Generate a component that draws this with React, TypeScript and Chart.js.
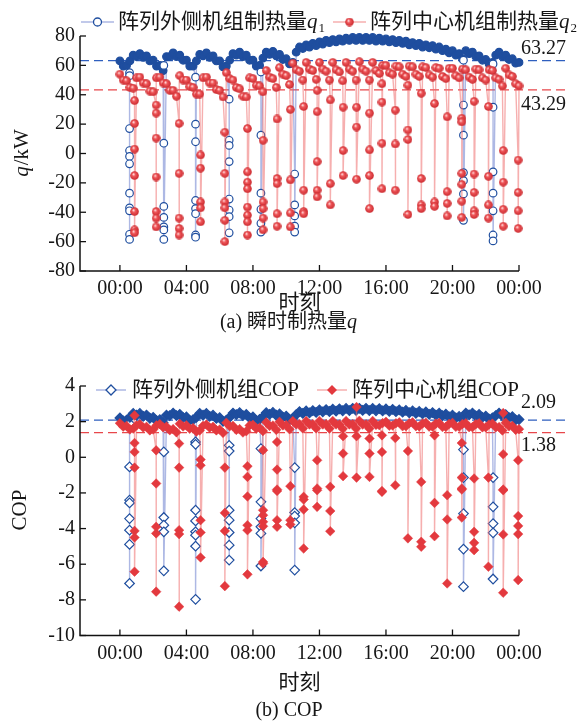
import React, { useEffect, useRef } from 'react';
import { Chart, registerables } from 'chart.js';

Chart.register(...registerables);

const FONT = '"Liberation Serif", "Noto Sans CJK SC", serif';

// ---------- data ----------
const timeTickHours = [0, 4, 8, 12, 16, 20, 24];
const timeTickLabels = ['00:00', '04:00', '08:00', '12:00', '16:00', '20:00', '00:00'];
const qTicks = [-80, -60, -40, -20, 0, 20, 40, 60, 80];
const copTicks = [-10, -8, -6, -4, -2, 0, 2, 4];

const hoursGrid = [
  0, 0.2, 0.4, 0.6, 0.8, 1, 1.2, 1.4, 1.6, 1.8,
  2, 2.2, 2.4, 2.6, 2.8, 3, 3.2, 3.4, 3.6, 3.8,
  4, 4.2, 4.4, 4.6, 4.8, 5, 5.2, 5.4, 5.6, 5.8,
  6, 6.2, 6.4, 6.6, 6.8, 7, 7.2, 7.4, 7.6, 7.8,
  8, 8.2, 8.4, 8.6, 8.8, 9, 9.2, 9.4, 9.6, 9.8,
  10, 10.2, 10.4, 10.6, 10.8, 11, 11.2, 11.4, 11.6, 11.8,
  12, 12.2, 12.4, 12.6, 12.8, 13, 13.2, 13.4, 13.6, 13.8,
  14, 14.2, 14.4, 14.6, 14.8, 15, 15.2, 15.4, 15.6, 15.8,
  16, 16.2, 16.4, 16.6, 16.8, 17, 17.2, 17.4, 17.6, 17.8,
  18, 18.2, 18.4, 18.6, 18.8, 19, 19.2, 19.4, 19.6, 19.8,
  20, 20.2, 20.4, 20.6, 20.8, 21, 21.2, 21.4, 21.6, 21.8,
  22, 22.2, 22.4, 22.6, 22.8, 23, 23.2, 23.4, 23.6, 23.8,
  24,
];

// q1: outer units heating output (kW), normal operation
const q1Band = [
  63, 59.5, 60, 63, 67, 66, 68, 65.5, 66.5, 63,
  63.5, 59.5, 60, 56.5, 66, 66, 68.5, 66, 67, 63.5,
  63.5, 59.5, 59.5, 63, 67.5, 66.5, 68.5, 65.5, 66.5, 63,
  63, 59, 59.5, 63.5, 68, 67, 69, 66, 67, 63.5,
  63.5, 59.5, 60, 65, 69, 67.5, 69.5, 66.5, 67.5, 64,
  64.5, 61, 62, 69, 72.5, 71.5, 74, 72.5, 75, 73.5,
  76, 74.5, 77, 75.5, 77.5, 76, 78, 76.5, 78.5, 77,
  79, 77, 79, 77, 79, 77, 79, 76.5, 78.5, 76.5,
  78, 76, 77.5, 75.5, 77, 75, 76.5, 74, 75.5, 73.5,
  75, 72.5, 74, 72, 73.5, 71, 72.5, 70, 71, 68.5,
  70, 67, 68, 64.5, 70, 68, 69, 66, 66.5, 63.5,
  64, 61, 62, 67, 69, 66, 67, 64, 64.5, 61.5,
  62,
];
// q2: centre units heating output (kW), normal operation
const q2Band = [
  54, 50, 49.5, 45, 44.5, 51.5, 52, 48, 47.5, 42.5,
  42, 51.5, 52, 48, 47.5, 43, 43, 39, 53, 50,
  50, 45.5, 45, 40.5, 40.5, 51.5, 52, 48, 48, 43.5,
  43, 38.5, 55, 51, 50, 45, 44, 39, 38.5, 51.5,
  51, 46.5, 46, 42, 56.5, 52, 51, 45, 58.5, 54,
  53, 47, 61.5, 57, 56, 50, 62, 57.5, 56.5, 50.5,
  62, 57.5, 56, 50, 62, 57, 55.5, 49.5, 62, 57.5,
  56, 50, 62.5, 57.5, 56, 50, 62, 56.5, 54.5, 60,
  60, 55, 54, 59.5, 59, 54, 52.5, 59.5, 59, 54,
  52.5, 59, 58.5, 53.5, 52, 58.5, 58, 52.5, 51, 58,
  58, 53, 51.5, 57.5, 57, 52, 50.5, 57.5, 57, 51.5,
  50, 57, 56.5, 51.5, 50.5, 46, 58, 53.5, 52.5, 47.5,
  46,
];
// COP of outer units, normal operation
const cop1Band = [
  2.21, 2.04, 2.08, 2.24, 2.46, 2.36, 2.46, 2.3, 2.37, 2.19,
  2.24, 2.05, 2.11, 1.94, 2.36, 2.34, 2.48, 2.34, 2.41, 2.22,
  2.26, 2.06, 2.11, 2.24, 2.46, 2.36, 2.46, 2.3, 2.36, 2.18,
  2.22, 2.02, 2.08, 2.24, 2.48, 2.39, 2.5, 2.34, 2.4, 2.21,
  2.26, 2.06, 2.12, 2.26, 2.5, 2.41, 2.52, 2.36, 2.43, 2.25,
  2.31, 2.12, 2.18, 2.39, 2.56, 2.46, 2.6, 2.49, 2.62, 2.52,
  2.66, 2.55, 2.68, 2.57, 2.7, 2.59, 2.72, 2.61, 2.74, 2.62,
  2.75, 2.63, 2.75, 2.63, 2.75, 2.62, 2.74, 2.61, 2.73, 2.6,
  2.71, 2.58, 2.69, 2.56, 2.66, 2.53, 2.63, 2.5, 2.6, 2.47,
  2.57, 2.44, 2.54, 2.41, 2.51, 2.37, 2.47, 2.33, 2.42, 2.27,
  2.36, 2.21, 2.29, 2.14, 2.48, 2.38, 2.48, 2.32, 2.4, 2.24,
  2.31, 2.14, 2.21, 2.34, 2.48, 2.32, 2.39, 2.22, 2.28, 2.1,
  2.12,
];
// COP of centre units, normal operation
const cop2Band = [
  1.91, 1.72, 1.76, 1.56, 1.61, 1.79, 1.86, 1.67, 1.71, 1.51,
  1.56, 1.79, 1.86, 1.68, 1.72, 1.52, 1.58, 1.4, 1.88, 1.73,
  1.79, 1.6, 1.64, 1.44, 1.5, 1.77, 1.84, 1.66, 1.71, 1.51,
  1.56, 1.37, 1.94, 1.74, 1.76, 1.54, 1.58, 1.39, 1.46, 1.79,
  1.82, 1.61, 1.66, 1.47, 1.96, 1.76, 1.78, 1.54, 1.99, 1.79,
  1.81, 1.57, 2.03, 1.84, 1.86, 1.62, 2.04, 1.84, 1.86, 1.62,
  2.04, 1.84, 1.86, 1.61, 2.04, 1.84, 1.84, 1.6, 2.04, 1.84,
  1.86, 1.61, 2.05, 1.84, 1.85, 1.61, 2.04, 1.82, 1.8, 1.92,
  1.99, 1.77, 1.78, 1.91, 1.96, 1.74, 1.74, 1.91, 1.96, 1.74,
  1.73, 1.9, 1.94, 1.72, 1.72, 1.89, 1.93, 1.7, 1.7, 1.88,
  1.93, 1.71, 1.71, 1.87, 1.91, 1.69, 1.69, 1.86, 1.91, 1.68,
  1.68, 1.84, 1.89, 1.68, 1.7, 1.5, 1.94, 1.74, 1.76, 1.54,
  1.58,
];

// defrost events of the outer units
const outerDefrostHours = [0.58, 2.64, 4.55, 6.57, 8.48, 10.51, 20.66, 22.44];
const q1DefrostValues = [
  [55, 53, 17, 2, -2, -7, -27, -37, -39, -55, -58.5],
  [60, 7, -36, -43.5, -50, -52, -58.5],
  [52, 20, 8, -32, -37.5, -41, -55.5, -57],
  [37, 9, 5.5, -5.5, -31, -38.5, -43, -54],
  [55.5, 12.5, -27, -38, -47.5, -53.5],
  [-14, -35, -42.5, -49.5, -53.5],
  [63.5, 33, 12.5, -13, -18.5, -27.5, -45.5],
  [61, 31.5, -12.5, -27, -39, -55.5, -59.5],
];
const cop1DefrostValues = [
  [1.89, -0.54, -2.4, -2.56, -3.44, -4.09, -4.89, -7.08],
  [0.3, -3.38, -3.81, -4.18, -6.37],
  [0.86, 0.73, -2.97, -3.57, -4.18, -4.37, -4.99, -7.97],
  [0.67, 0.35, -2.97, -3.53, -4.22, -4.93, -5.77],
  [0.49, -2.5, -3.44, -3.9, -4.27, -6.1],
  [-0.58, -3.1, -3.3, -3.68, -6.33],
  [0.43, -1.14, -3.16, -5.15, -7.26],
  [-1.14, -2.78, -3.72, -4.24, -6.83],
];

// defrost events of the centre units
const centreDefrostHours = [
  0.88, 2.18, 3.56, 4.85, 6.31, 7.67, 8.61, 9.45, 10.25, 11.05, 11.86, 12.65, 13.42,
  14.23, 15.01, 15.76, 16.56, 17.32, 18.12, 18.92, 19.68, 20.56, 21.3, 22.16, 23.05, 23.95,
];
const q2DefrostValues = [
  [36, 20.5, 3, -15, -39.5, -52, -54],
  [33, 27.5, 10.5, -16, -39.5, -44, -50],
  [20.5, -13.5, -44, -51, -55.5],
  [-1, -10, -33, -37, -46.5],
  [14.5, -13.5, -33, -37, -45.5, -60],
  [17, -12.5, -19.5, -24, -36.5, -42, -46.5, -55.5],
  [9, -33, -37.5, -44, -52],
  [23.5, -17, -20.5, -41, -49.5],
  [30, -18, -40.5, -50],
  [32, -25, -39.5, -41],
  [43, 28.5, -5.5, -25, -29.5],
  [36.5, -20.5, -35],
  [31.5, 2, -15],
  [31.5, 18, -17.5],
  [27.5, 2.5, -15, -37.5],
  [47.5, 35, 7, -24],
  [29.5, 6.5, -25],
  [46.5, 16, 9.5, -41.5],
  [41, -17, -35, -37.5],
  [34, -33, -36],
  [25, -26, -34, -42.5],
  [24, 21.5, -13.5, -21, -32.5, -43.5],
  [35.5, -14, -26.5, -39, -41.5],
  [32, -15.5, -35, -44],
  [2, -19.5, -38, -49.5],
  [-4.5, -26.5, -39, -51],
];
const cop2DefrostValues = [
  [2.35, 0.8, 0.3, -0.58, -4.13, -4.5, -6.42],
  [0.39, -1.47, -3.9, -4.27, -7.54],
  [0.77, -0.58, -4.09, -4.31, -8.38],
  [-0.13, -0.45, -3.53, -4.22, -5.62],
  [-0.58, -3.12, -4.13, -7.23],
  [-0.5, -1.1, -2.2, -3.81, -4.09, -6.57],
  [0.4, -2.97, -3.25, -3.62, -3.87, -5.87, -5.96],
  [0.86, -0.69, -1.81, -1.89, -3.53, -3.9],
  [-1.62, -3.53, -3.77],
  [-2.22, -2.37, -2.93, -5.12],
  [-0.17, -1.75, -1.85, -2.78],
  [-1.66, -3.01, -4.15],
  [1.18, 0.21, -1.06],
  [2.82, 1.18, -1.14],
  [1.05, 0.21, -1.1],
  [1.23, 0.3, -1.89, -1.94],
  [1.08, -1.57],
  [0.35, -4.55],
  [-1.38, -4.74, -5.02],
  [1.23, -2.56, -4.43],
  [-2.13, -3.49, -7.08],
  [0.8, -1.14, -1.75, -1.81, -3.38],
  [-1.19, -4.18, -4.8, -5.21],
  [-1.14, -6.14],
  [2.48, 0.17, -1.81, -1.85, -4.33, -7.6],
  [-0.17, -3.3, -3.85, -4.31, -6.89],
];

// daily means (dashed reference lines)
const qMeans = [63.27, 43.29];
const copMeans = [2.09, 1.38];

// ---------- styling ----------
const BLUE = '#1f4e9f';
const BLUE_LINE = 'rgba(105,125,205,0.55)';
const BLUE_DASH = '#2f5fbf';
const RED = '#e3393e';
const RED_LINE = 'rgba(238,110,110,0.55)';
const RED_DASH = '#e8474b';
const TEXT = '#161616';

type P = { x: number; y: number; dip: boolean };

function buildSeries(hours: number[], band: number[], dipHours: number[], dipValues: number[][]): P[] {
  const pts: P[] = [];
  let d = 0;
  for (let i = 0; i < hours.length; i++) {
    while (d < dipHours.length && dipHours[d] < hours[i]) {
      for (const v of dipValues[d]) pts.push({ x: dipHours[d], y: v, dip: true });
      d++;
    }
    pts.push({ x: hours[i], y: band[i], dip: false });
  }
  while (d < dipHours.length) {
    for (const v of dipValues[d]) pts.push({ x: dipHours[d], y: v, dip: true });
    d++;
  }
  return pts;
}

type Part = { t: string; it?: boolean; sub?: boolean };

function partFont(p: Part, size: number) {
  return `${p.it ? 'italic ' : ''}${p.sub ? Math.round(size * 0.62) : size}px ${FONT}`;
}
function richWidth(ctx: CanvasRenderingContext2D, parts: Part[], size: number) {
  let w = 0;
  for (const p of parts) {
    ctx.font = partFont(p, size);
    w += ctx.measureText(p.t).width + (p.it ? 1 : 0);
  }
  return w;
}
function drawRich(ctx: CanvasRenderingContext2D, parts: Part[], x: number, y: number, size: number, align: 'left' | 'center') {
  let cx = align === 'center' ? x - richWidth(ctx, parts, size) / 2 : x;
  ctx.textAlign = 'left';
  ctx.textBaseline = 'middle';
  ctx.fillStyle = TEXT;
  for (const p of parts) {
    ctx.font = partFont(p, size);
    ctx.fillText(p.t, cx, p.sub ? y + size * 0.32 : y);
    cx += ctx.measureText(p.t).width + (p.it ? 1 : 0);
  }
  return cx;
}

function makeBall(d: number) {
  const c = document.createElement('canvas');
  c.width = d;
  c.height = d;
  const g = c.getContext('2d')!;
  const r = d / 2;
  const grad = g.createRadialGradient(r * 0.75, r * 0.7, r * 0.1, r, r, r);
  grad.addColorStop(0, '#ffd6d6');
  grad.addColorStop(0.3, '#f0585b');
  grad.addColorStop(1, '#c9272c');
  g.fillStyle = grad;
  g.beginPath();
  g.arc(r, r, r - 0.2, 0, Math.PI * 2);
  g.fill();
  return c;
}

type Marker = 'circle' | 'ball' | 'diamondHollow' | 'diamond';
type LegendItem = { x: number; lineLen: number; textGap: number; marker: Marker; lineColor: string; parts: Part[] };
type Decor = {
  refLines: { value: number; color: string; dy: number }[];
  refEnd: number;
  legendY: number;
  legend: LegendItem[];
  xTitleY: number;
  caption: Part[];
  captionX: number;
  captionY: number;
  yTitle: Part[];
  yTitleX: number;
  yTitleY: number;
  ball: HTMLCanvasElement;
};

function drawMarker(ctx: CanvasRenderingContext2D, m: Marker, x: number, y: number, ball: HTMLCanvasElement) {
  ctx.save();
  ctx.setLineDash([]);
  if (m === 'circle') {
    ctx.beginPath();
    ctx.arc(x, y, 4, 0, Math.PI * 2);
    ctx.fillStyle = '#fff';
    ctx.fill();
    ctx.lineWidth = 1.3;
    ctx.strokeStyle = BLUE;
    ctx.stroke();
  } else if (m === 'ball') {
    ctx.drawImage(ball, x - ball.width / 2, y - ball.height / 2);
  } else {
    const r = 5;
    ctx.beginPath();
    ctx.moveTo(x, y - r);
    ctx.lineTo(x + r, y);
    ctx.lineTo(x, y + r);
    ctx.lineTo(x - r, y);
    ctx.closePath();
    if (m === 'diamond') {
      ctx.fillStyle = RED;
      ctx.fill();
    } else {
      ctx.fillStyle = '#fff';
      ctx.fill();
      ctx.lineWidth = 1.3;
      ctx.strokeStyle = BLUE;
      ctx.stroke();
    }
  }
  ctx.restore();
}

function makeDecorPlugin(o: Decor) {
  return {
    id: 'decor',
    beforeDatasetsDraw(chart: any) {
      const { ctx, chartArea, scales } = chart;
      ctx.save();
      ctx.setLineDash([9, 5]);
      ctx.lineWidth = 1.3;
      for (const r of o.refLines) {
        const py = scales.y.getPixelForValue(r.value);
        ctx.strokeStyle = r.color;
        ctx.beginPath();
        ctx.moveTo(chartArea.left, py);
        ctx.lineTo(o.refEnd, py);
        ctx.stroke();
      }
      ctx.restore();
    },
    afterDraw(chart: any) {
      const { ctx, chartArea, scales } = chart;
      const { left, right, top, bottom } = chartArea;
      ctx.save();
      ctx.strokeStyle = '#111';
      ctx.lineWidth = 1.5;
      ctx.setLineDash([]);
      ctx.beginPath();
      ctx.moveTo(left, top);
      ctx.lineTo(left, bottom);
      ctx.lineTo(right, bottom);
      ctx.stroke();
      ctx.lineWidth = 1.3;
      for (const t of scales.x.ticks) {
        const px = scales.x.getPixelForValue(t.value);
        ctx.beginPath();
        ctx.moveTo(px, bottom);
        ctx.lineTo(px, bottom - 6);
        ctx.stroke();
      }
      for (const t of scales.y.ticks) {
        const py = scales.y.getPixelForValue(t.value);
        ctx.beginPath();
        ctx.moveTo(left, py);
        ctx.lineTo(left + 6, py);
        ctx.stroke();
      }
      for (const r of o.refLines) {
        const py = scales.y.getPixelForValue(r.value);
        drawRich(ctx, [{ t: r.value.toFixed(2) }], right + 2, py + r.dy, 20, 'left');
      }
      let prevEnd = 0;
      for (const it of o.legend) {
        const x0 = Math.max(it.x, prevEnd + 8);
        ctx.strokeStyle = it.lineColor;
        ctx.lineWidth = 1.5;
        ctx.beginPath();
        ctx.moveTo(x0, o.legendY);
        ctx.lineTo(x0 + it.lineLen, o.legendY);
        ctx.stroke();
        drawMarker(ctx, it.marker, x0 + it.lineLen / 2, o.legendY, o.ball);
        prevEnd = drawRich(ctx, it.parts, x0 + it.textGap, o.legendY, 21, 'left');
      }
      drawRich(ctx, [{ t: '时刻' }], (left + right) / 2, o.xTitleY, 21, 'center');
      drawRich(ctx, o.caption, o.captionX, o.captionY, 20, 'center');
      ctx.translate(o.yTitleX, o.yTitleY);
      ctx.rotate(-Math.PI / 2);
      drawRich(ctx, o.yTitle, 0, 0, 21, 'center');
      ctx.restore();
    },
  };
}

function xScale(height: number) {
  return {
    type: 'linear',
    min: -2.4,
    max: 24,
    afterBuildTicks: (s: any) => {
      s.ticks = timeTickHours.map((v) => ({ value: v }));
    },
    afterFit: (s: any) => {
      s.height = height;
    },
    grid: { display: false, drawTicks: false },
    border: { display: false },
    ticks: {
      autoSkip: false,
      maxRotation: 0,
      padding: 6,
      color: TEXT,
      font: { family: FONT, size: 20 },
      callback: (_v: any, i: number) => timeTickLabels[i],
    },
  };
}

function yScale(min: number, max: number, ticks: number[]) {
  return {
    type: 'linear',
    min,
    max,
    afterBuildTicks: (s: any) => {
      s.ticks = ticks.map((v) => ({ value: v }));
    },
    afterFit: (s: any) => {
      s.width = 80;
    },
    grid: { display: false, drawTicks: false },
    border: { display: false },
    ticks: {
      padding: 5,
      color: TEXT,
      font: { family: FONT, size: 20 },
      callback: (v: any) => String(v),
    },
  };
}

const blueFill = (ctx: any) => (ctx.raw && ctx.raw.dip ? '#ffffff' : BLUE);

export default function App() {
  const topRef = useRef<HTMLCanvasElement>(null);
  const botRef = useRef<HTMLCanvasElement>(null);

  useEffect(() => {
    const ball = makeBall(9);
    const q1 = buildSeries(hoursGrid, q1Band, outerDefrostHours, q1DefrostValues);
    const q2 = buildSeries(hoursGrid, q2Band, centreDefrostHours, q2DefrostValues);
    const c1 = buildSeries(hoursGrid, cop1Band, outerDefrostHours, cop1DefrostValues);
    const c2 = buildSeries(hoursGrid, cop2Band, centreDefrostHours, cop2DefrostValues);

    const top = new Chart(topRef.current!, {
      type: 'line',
      data: {
        datasets: [
          {
            label: '阵列外侧机组制热量q1',
            data: q1 as any,
            borderColor: BLUE_LINE,
            borderWidth: 1.4,
            pointStyle: 'circle',
            pointRadius: 3.8,
            pointBorderColor: BLUE,
            pointBorderWidth: 1.2,
            pointBackgroundColor: blueFill as any,
            tension: 0,
            clip: false as any,
            order: 1,
          },
          {
            label: '阵列中心机组制热量q2',
            data: q2 as any,
            borderColor: RED_LINE,
            borderWidth: 1.4,
            pointStyle: ball as any,
            pointRadius: 4.5,
            tension: 0,
            clip: false as any,
            order: 0,
          },
        ],
      },
      options: {
        animation: false,
        responsive: false,
        maintainAspectRatio: false,
        events: [],
        layout: { padding: { top: 36, right: 60, left: 0, bottom: 0 } },
        plugins: { legend: { display: false }, tooltip: { enabled: false } },
        scales: { x: xScale(69) as any, y: yScale(-80, 80, qTicks) as any },
      },
      plugins: [
        makeDecorPlugin({
          refLines: [
            { value: qMeans[0], color: BLUE_DASH, dy: -12 },
            { value: qMeans[1], color: RED_DASH, dy: 15 },
          ],
          refEnd: 566,
          legendY: 22,
          legend: [
            { x: 81, lineLen: 33, textGap: 37, marker: 'circle', lineColor: BLUE_LINE, parts: [{ t: '阵列外侧机组制热量' }, { t: 'q', it: true }, { t: '1', sub: true }] },
            { x: 332, lineLen: 33, textGap: 37, marker: 'ball', lineColor: RED_LINE, parts: [{ t: '阵列中心机组制热量' }, { t: 'q', it: true }, { t: '2', sub: true }] },
          ],
          xTitleY: 303,
          caption: [{ t: '(a) 瞬时制热量' }, { t: 'q', it: true }],
          captionX: 289,
          captionY: 323,
          yTitle: [{ t: 'q', it: true }, { t: '/kW' }],
          yTitleX: 22,
          yTitleY: 153,
          ball,
        }) as any,
      ],
    });

    const bot = new Chart(botRef.current!, {
      type: 'line',
      data: {
        datasets: [
          {
            label: '阵列外侧机组COP',
            data: c1 as any,
            borderColor: BLUE_LINE,
            borderWidth: 1.4,
            pointStyle: 'rectRot',
            pointRadius: 4.8,
            pointBorderColor: BLUE,
            pointBorderWidth: 1.2,
            pointBackgroundColor: blueFill as any,
            tension: 0,
            clip: false as any,
            order: 1,
          },
          {
            label: '阵列中心机组COP',
            data: c2 as any,
            borderColor: RED_LINE,
            borderWidth: 1.4,
            pointStyle: 'rectRot',
            pointRadius: 4.8,
            pointBorderColor: RED,
            pointBorderWidth: 0.5,
            pointBackgroundColor: RED,
            tension: 0,
            clip: false as any,
            order: 0,
          },
        ],
      },
      options: {
        animation: false,
        responsive: false,
        maintainAspectRatio: false,
        events: [],
        layout: { padding: { top: 46, right: 60, left: 0, bottom: 0 } },
        plugins: { legend: { display: false }, tooltip: { enabled: false } },
        scales: { x: xScale(86.5) as any, y: yScale(-10, 4, copTicks) as any },
      },
      plugins: [
        makeDecorPlugin({
          refLines: [
            { value: copMeans[0], color: BLUE_DASH, dy: -17 },
            { value: copMeans[1], color: RED_DASH, dy: 13 },
          ],
          refEnd: 566,
          legendY: 50,
          legend: [
            { x: 96, lineLen: 30, textGap: 36, marker: 'diamondHollow', lineColor: BLUE_LINE, parts: [{ t: '阵列外侧机组COP' }] },
            { x: 317, lineLen: 30, textGap: 35, marker: 'diamond', lineColor: RED_LINE, parts: [{ t: '阵列中心机组COP' }] },
          ],
          xTitleY: 343,
          caption: [{ t: '(b) COP' }],
          captionX: 289,
          captionY: 371,
          yTitle: [{ t: 'COP' }],
          yTitleX: 20,
          yTitleY: 170,
          ball,
        }) as any,
      ],
    });

    return () => {
      top.destroy();
      bot.destroy();
    };
  }, []);

  return (
    <div style={{ position: 'absolute', left: 0, top: 0, width: 579, height: 722, background: '#fff' }}>
      <canvas ref={topRef} width={579} height={340} style={{ position: 'absolute', left: 0, top: 0, width: 579, height: 340 }} />
      <canvas ref={botRef} width={579} height={382} style={{ position: 'absolute', left: 0, top: 340, width: 579, height: 382 }} />
    </div>
  );
}
